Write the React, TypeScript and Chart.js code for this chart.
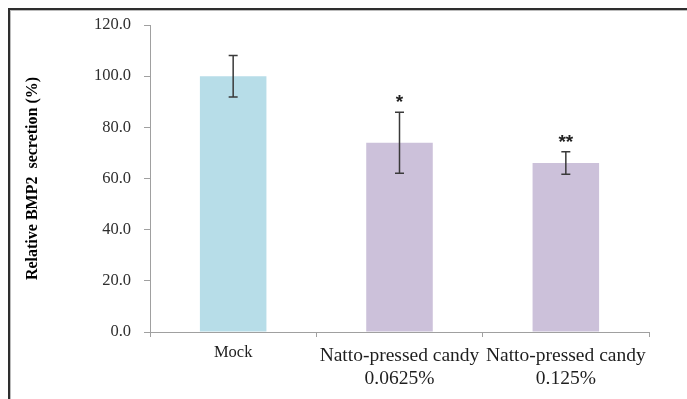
import React, { useEffect, useRef } from "react";
import { Chart, registerables } from "chart.js";

Chart.register(...registerables);

const categories: (string | string[])[] = [
  "Mock",
  ["Natto-pressed candy", "0.0625%"],
  ["Natto-pressed candy", "0.125%"],
];
const values = [100, 74, 66.1];
const errors = [8.1, 11.9, 4.4];
const significance = ["", "*", "**"];
const barColors = ["#b7dde8", "#ccc1da", "#ccc1da"];
const yTickMin = 0;
const yTickMax = 120;
const yTickStep = 20;
const yTitle = "Relative BMP2  secretion (%)";

const errorBarPlugin = {
  id: "errorBars",
  afterDatasetsDraw(chart: any) {
    const ctx = chart.ctx;
    const meta = chart.getDatasetMeta(0);
    const y = chart.scales.y;
    ctx.save();
    meta.data.forEach((bar: any, i: number) => {
      const x = bar.x;
      const top = y.getPixelForValue(values[i] + errors[i]);
      const bot = y.getPixelForValue(values[i] - errors[i]);
      ctx.strokeStyle = "#3a3a3a";
      ctx.lineWidth = 1.5;
      ctx.beginPath();
      ctx.moveTo(x, top);
      ctx.lineTo(x, bot);
      ctx.moveTo(x - 4.5, top);
      ctx.lineTo(x + 4.5, top);
      ctx.moveTo(x - 4.5, bot);
      ctx.lineTo(x + 4.5, bot);
      ctx.stroke();
      if (significance[i]) {
        ctx.fillStyle = "#222";
        ctx.font = "bold 19px 'Liberation Sans'";
        ctx.textAlign = "center";
        ctx.textBaseline = "middle";
        ctx.fillText(significance[i], x, top - 9);
      }
    });
    ctx.restore();
  },
};

const framePlugin = {
  id: "frame",
  afterDraw(chart: any) {
    const ctx = chart.ctx;
    ctx.save();
    ctx.fillStyle = "#bbbbbb";
    ctx.fillRect(8, 10, chart.width - 8, 1);
    ctx.fillRect(10, 10, 1, chart.height - 10);
    ctx.fillStyle = "#2e2e2e";
    ctx.fillRect(8, 8, chart.width - 8, 2);
    ctx.fillRect(8, 8, 2, chart.height - 8);
    ctx.restore();
  },
};

export default function App() {
  const ref = useRef<HTMLCanvasElement>(null);
  useEffect(() => {
    if (!ref.current) return;
    const chart = new Chart(ref.current, {
      type: "bar",
      data: {
        labels: categories,
        datasets: [
          {
            data: values,
            backgroundColor: barColors,
            borderWidth: 0,
            categoryPercentage: 1,
            barPercentage: 0.4,
          },
        ],
      },
      options: {
        animation: false,
        responsive: false,
        events: [],
        layout: { padding: { left: 0, right: 38, top: 25, bottom: 0 } },
        plugins: {
          legend: { display: false },
          tooltip: { enabled: false },
        },
        scales: {
          x: {
            offset: true,
            grid: {
              offset: true,
              drawOnChartArea: false,
              drawTicks: true,
              tickLength: 5,
              color: "#a0a0a0",
            },
            border: { color: "#a0a0a0", width: 1 },
            ticks: {
              color: "#1e1e1e",
              padding: 7,
              maxRotation: 0,
              autoSkip: false,
              font: (c: any) =>
                c.index === 0
                  ? { family: "'Liberation Serif'", size: 16.5, lineHeight: 1.1 }
                  : { family: "'Liberation Serif'", size: 19.5, lineHeight: 1.18 },
            },
            afterFit(scale: any) {
              scale.height = 67;
            },
          },
          y: {
            min: yTickMin,
            max: yTickMax,
            grid: {
              drawOnChartArea: false,
              drawTicks: true,
              tickLength: 6,
              color: "#a0a0a0",
            },
            border: { color: "#a0a0a0", width: 1 },
            ticks: {
              stepSize: yTickStep,
              color: "#2e2e2e",
              padding: 13,
              font: { family: "'Liberation Serif'", size: 16.5 },
              callback: (v: any) => Number(v).toFixed(1),
            },
            title: {
              display: true,
              text: yTitle,
              color: "#000",
              font: { family: "'Liberation Serif'", size: 16, weight: "bold" },
              padding: { top: 23, bottom: 0 },
            },
            afterFit(scale: any) {
              scale.width = 150;
            },
          },
        },
      },
      plugins: [errorBarPlugin, framePlugin],
    });
    return () => chart.destroy();
  }, []);
  return (
    <div style={{ position: "absolute", left: 0, top: 0, width: 687, height: 399, background: "#fff" }}>
      <canvas ref={ref} width={687} height={399} />
    </div>
  );
}
